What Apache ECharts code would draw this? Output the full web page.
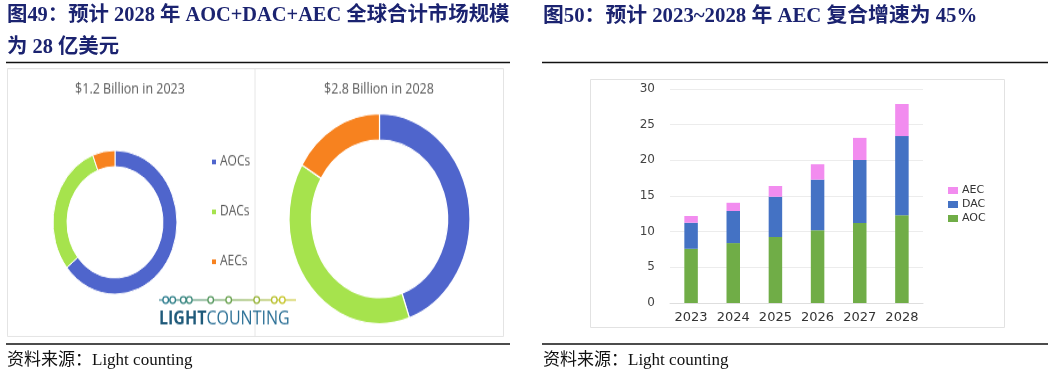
<!DOCTYPE html>
<html>
<head>
<meta charset="utf-8">
<script src="https://cdn.jsdelivr.net/npm/echarts@6/dist/echarts.min.js"></script>
<style>
  html, body { margin: 0; padding: 0; background: #fff; }
  #main { position: absolute; left: 0; top: 0; width: 1057px; height: 376px; }
  #donut { position: absolute; left: 7px; top: 68px; width: 497px; height: 232px;
           transform: scaleY(1.16); transform-origin: 0 0; }
</style>
</head>
<body>
<div id="main"></div>
<div id="donut"></div>
<script>
// 图50 数据（亿美元）
const years = ['2023', '2024', '2025', '2026', '2027', '2028']
const aoc = [7.6, 8.4, 9.25, 10.2, 11.2, 12.3]
const dac = [3.65, 4.5, 5.65, 7.1, 8.85, 11.1]
const aec = [0.95, 1.15, 1.5, 2.15, 3.1, 4.5]
const yTicks = [0, 5, 10, 15, 20, 25, 30]

// 图49 数据（十亿美元）
const donutNames = ['AOCs', 'DACs', 'AECs']
const donut2023 = [0.77, 0.36, 0.07]
const donut2028 = [1.25, 1.09, 0.46]

const titleColor = '#1b2370'
const serif = '"Liberation Serif", "Noto Sans CJK SC", serif'

// 主图：标题、分隔线、柱状图
const chart = echarts.init(document.getElementById('main'))

const option = {
  animation: false,
  grid: { left: 670, right: 134, top: 89, bottom: 73 },
  legend: {
    orient: 'vertical',
    left: 943,
    top: 180,
    itemWidth: 10,
    itemHeight: 7,
    itemGap: 3,
    icon: 'rect',
    data: ['AEC', 'DAC', 'AOC'],
    textStyle: { fontFamily: 'DejaVu Sans', fontSize: 11, color: '#333', padding: [0, 0, 0, -1] }
  },
  xAxis: {
    type: 'category',
    data: years,
    axisLine: { lineStyle: { color: '#dedede' } },
    axisTick: { show: false },
    axisLabel: { interval: 0, fontFamily: 'DejaVu Sans', fontSize: 13, color: '#333', margin: 8 }
  },
  yAxis: {
    type: 'value',
    min: yTicks[0],
    max: yTicks[yTicks.length - 1],
    interval: 5,
    axisLine: { show: false },
    axisTick: { show: false },
    axisLabel: { fontFamily: 'DejaVu Sans', fontSize: 12, color: '#444', margin: 15 },
    splitLine: { lineStyle: { color: '#ececec' } }
  },
  series: [
    { name: 'AOC', type: 'bar', stack: 'all', barWidth: 13.5, data: aoc, itemStyle: { color: '#70ad47' } },
    { name: 'DAC', type: 'bar', stack: 'all', data: dac, itemStyle: { color: '#4472c4' } },
    { name: 'AEC', type: 'bar', stack: 'all', data: aec, itemStyle: { color: '#f28cef' } }
  ],
  graphic: [
    { type: 'text', left: 7, top: 6, style: { text: '图49：预计 2028 年 AOC+DAC+AEC 全球合计市场规模', font: 'bold 20.4px ' + serif, fill: titleColor } },
    { type: 'text', left: 7, top: 38, style: { text: '为 28 亿美元', font: 'bold 20.4px ' + serif, fill: titleColor } },
    { type: 'text', left: 543, top: 6, style: { text: '图50：预计 2023~2028 年 AEC 复合增速为 45%', font: 'bold 20.8px ' + serif, fill: titleColor } },
    { type: 'line', shape: { x1: 6, y1: 62.5, x2: 510, y2: 62.5 }, style: { stroke: '#111', lineWidth: 1.5 } },
    { type: 'line', shape: { x1: 542, y1: 62.5, x2: 1048, y2: 62.5 }, style: { stroke: '#111', lineWidth: 1.5 } },
    { type: 'line', shape: { x1: 6, y1: 344, x2: 510, y2: 344 }, style: { stroke: '#111', lineWidth: 1.5 } },
    { type: 'line', shape: { x1: 542, y1: 344, x2: 1048, y2: 344 }, style: { stroke: '#111', lineWidth: 1.5 } },
    { type: 'text', left: 7, top: 352, style: { text: '资料来源：Light counting', font: '17px ' + serif, fill: '#111' } },
    { type: 'text', left: 543, top: 352, style: { text: '资料来源：Light counting', font: '17px ' + serif, fill: '#111' } },
    { type: 'rect', shape: { x: 590.5, y: 79.5, width: 414, height: 248 }, style: { fill: 'none', stroke: '#e2e2e2', lineWidth: 1 }, z: -1 }
  ]
}
chart.setOption(option)

// 左图：环形图（原图纵向略有拉伸）
const donut = echarts.init(document.getElementById('donut'))
const donutColors = ['#4f65cc', '#a6e34d', '#f7821f']
const chainX = [158.7, 165.7, 176.3, 182.3, 203.7, 221.7, 249.7, 267.3, 275.3]
const chainColors = ['#2b7b8e', '#2f7f88', '#378582', '#3d8a7c', '#55975f', '#6aa24f', '#98b43a', '#b9c030', '#c7c52a']

const toData = (vals) => vals.map((v, i) => ({ name: donutNames[i], value: v, itemStyle: { color: donutColors[i] } }))

const chainGraphics = [
  { type: 'line', shape: { x1: 152, y1: 200, x2: 289, y2: 200 },
    style: { stroke: new echarts.graphic.LinearGradient(0, 0, 1, 0, [
      { offset: 0, color: '#2b7b8e' }, { offset: 0.5, color: '#6aa24f' }, { offset: 1, color: '#cfc82a' }]), lineWidth: 1.2 } }
]
chainX.forEach((x, i) => {
  chainGraphics.push({ type: 'circle', shape: { cx: x, cy: 200, r: 2.8 }, style: { fill: '#fff', stroke: chainColors[i], lineWidth: 1.3 } })
})

donut.setOption({
  animation: false,
  legend: {
    orient: 'vertical',
    left: 198,
    top: 70,
    itemGap: 31,
    itemWidth: 6,
    itemHeight: 6,
    icon: 'rect',
    data: donutNames,
    textStyle: { fontFamily: 'Open Sans', fontSize: 12, color: '#595959', padding: [0, 0, 0, -2] }
  },
  series: [
    {
      type: 'pie', center: [108, 133], radius: [48, 62], startAngle: 90, clockwise: true,
      label: { show: false }, labelLine: { show: false }, silent: true,
      itemStyle: { borderColor: '#fff', borderWidth: 1 },
      data: toData(donut2023)
    },
    {
      type: 'pie', center: [372.5, 130], radius: [68, 90.5], startAngle: 90, clockwise: true,
      label: { show: false }, labelLine: { show: false }, silent: true,
      itemStyle: { borderColor: '#fff', borderWidth: 1.2 },
      data: toData(donut2028)
    }
  ],
  graphic: [
    { type: 'rect', shape: { x: 0.5, y: 0.5, width: 496, height: 231 }, style: { fill: 'none', stroke: '#e4e4e4', lineWidth: 1 }, z: -1 },
    { type: 'line', shape: { x1: 248, y1: 1, x2: 248, y2: 231 }, style: { stroke: '#e6e6e6', lineWidth: 1 }, z: -1 },
    { type: 'text', x: 123, y: 18, style: { text: '$1.2 Billion in 2023', font: '12.5px "Open Sans"', fill: '#595959', align: 'center', verticalAlign: 'middle' } },
    { type: 'text', x: 372, y: 18, style: { text: '$2.8 Billion in 2028', font: '12.5px "Open Sans"', fill: '#595959', align: 'center', verticalAlign: 'middle' } },
    ...chainGraphics,
    { type: 'text', x: 152, y: 216, style: {
        text: '{a|LIGHT}{b|COUNTING}', verticalAlign: 'middle',
        rich: {
          a: { font: 'bold 16px "Open Sans"', fill: '#1f5a7a', color: '#1f5a7a' },
          b: { font: '16px "Open Sans"', fill: '#2a6f95', color: '#2a6f95' }
        }
      } }
  ]
})
</script>
</body>
</html>
